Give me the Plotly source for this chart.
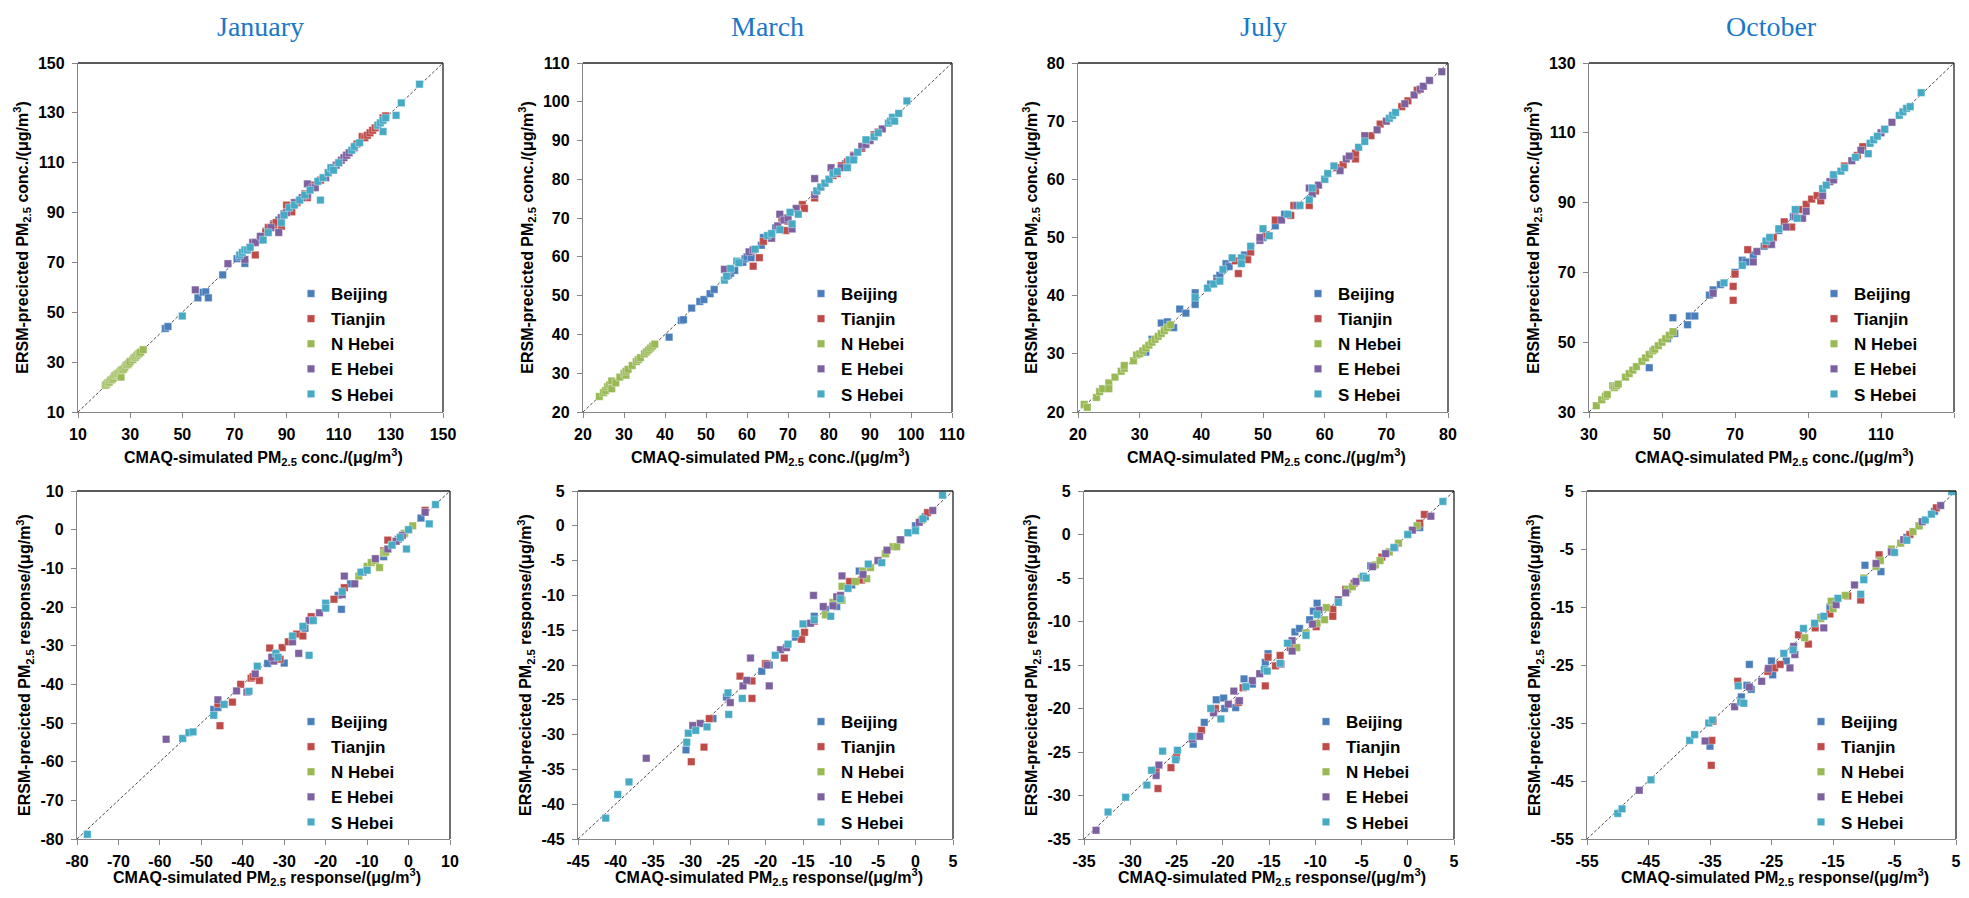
import plotly.graph_objects as go

OFF = 8                      # page body margin of the html page
W, H = 1969 - 2 * OFF, 898 - 2 * OFF

months = ["January", "March", "July", "October"]
regions = ["Beijing", "Tianjin", "N Hebei", "E Hebei", "S Hebei"]
colors = ["#4A7EBB", "#BE4B48", "#98B954", "#7D60A0", "#46AAC5"]

# ---------------- tick labels per panel ----------------
ticks_jan_conc = [10, 30, 50, 70, 90, 110, 130, 150]
ticks_mar_conc = [20, 30, 40, 50, 60, 70, 80, 90, 100, 110]
ticks_jul_conc = [20, 30, 40, 50, 60, 70, 80]
ticks_oct_conc = [30, 50, 70, 90, 110, 130]
ticks_jan_resp = [-80, -70, -60, -50, -40, -30, -20, -10, 0, 10]
ticks_mar_resp = [-45, -40, -35, -30, -25, -20, -15, -10, -5, 0, 5]
ticks_jul_resp = [-35, -30, -25, -20, -15, -10, -5, 0, 5]
ticks_oct_resp = [-55, -45, -35, -25, -15, -5, 5]

# ---------------- data: (CMAQ-simulated, ERSM-predicted) ----------------
# January concentration
jan_conc_bj = [(43.5,43.5),(44.5,44.3),(56,55.8),(58,58),(59,58.2),(60,55.8),(65.5,65),(71,71.5),(72,72.3),(74,69.6),(75,75),(78,78),(80,80),(82,82.5),(84,84),(85,85.5),(87,87),(89,89),(91,91),(95,95)]
jan_conc_tj = [(78,73),(80,79),(82,82),(83,84),(85,85),(86,86),(88,84.5),(90,93),(92,90.3),(94,94),(97,97.5),(98,96),(100,101),(103,103),(106,106),(110,110),(113,113),(117,117.5),(119,120.5),(120,120),(121,121),(122,122),(123,123),(124,124),(125,125),(127,128),(128,128.8)]
jan_conc_nh = [(20.5,20.7),(21,21.2),(21.5,21.8),(22,22),(22.5,22.8),(23,23),(23.5,23.6),(24,24.5),(24.5,24.8),(25,25.3),(25.5,25.5),(26,26),(26.5,24),(26.5,26.7),(27,27),(27.5,27.2),(28,28),(28.5,28.8),(29,29),(29.5,29.5),(30,30.2),(31,31),(31.5,31.8),(32,32),(32.5,32.6),(33,33.2),(33.5,33.5),(34,34),(35,35)]
jan_conc_eh = [(55,59),(67.5,69.5),(74,71.2),(76,76),(77,78),(78,78),(80,80.5),(84,84),(87,82),(88,88),(89,89.5),(90,90),(93,94),(96,96),(98,101.5),(98,97),(100,100),(101,100),(105,104),(108,108),(109,109),(111,111),(112,112),(113,113),(114,114),(116,116)]
jan_conc_sh = [(50,48.5),(72,73),(73,74),(74,75),(75,75),(76,76),(81,79),(83,82),(88,86),(89,89),(91,92),(93,93),(95,95),(97,97),(99,99),(102,102.5),(103,95),(104,104),(106,106),(107,108),(108,107),(110,110),(115,115),(116,116.5),(118,118),(125,125),(126,126),(127,122.5),(127,127),(128,128),(132,129),(134,134),(141,141.5)]

# March concentration
mar_conc_bj = [(41,39.3),(44,43.6),(44.5,43.8),(46.5,46.8),(48.5,48.5),(49.5,49),(51,50.5),(52,51.6),(55.5,55.3),(56,55.8),(57,56.5),(58,58.5),(59,58.6),(59.5,59.5),(60,60),(61,59.8),(63.5,63),(64,65),(66,66),(67,67.5),(70,70),(80,80),(84,84)]
mar_conc_tj = [(61.5,57.6),(63,59.8),(64,64),(68.5,70),(69.5,66.8),(70,69.2),(73.5,73.5),(74,72.5),(76.5,75.2),(78,78),(81,81),(82,81.5),(83,83.5),(84.5,84.5),(85,85),(86,86.2),(88,88),(91,91.5),(92,92.2)]
mar_conc_nh = [(24,24),(25,25),(25.5,25.5),(26,26.5),(26.5,27),(27,28),(27,26),(28,27.5),(29,29),(30,30),(30.5,29.5),(30.5,30.5),(31,31),(32,32),(33,33),(33.5,33.5),(34,34),(35,35),(35.5,35.5),(36,36),(36.5,36.5),(37,37),(37.5,37.5)]
mar_conc_eh = [(54.5,56.8),(60.5,61.3),(61.5,61.8),(66,64.8),(67.5,68),(68,71),(69,69.5),(70,70),(71,67.2),(72,72.5),(76.5,80.2),(76.5,76),(77,77),(79,79),(80.5,83),(83,83),(86,86),(88,88.5),(89,89),(90,90),(91,91),(93,93)]
mar_conc_sh = [(54.5,54),(55,55),(56,57),(57.5,58.9),(58,58.5),(62,62),(65,65.5),(66,66),(68,67),(70.5,71.5),(71,68.5),(72.5,71),(77,77),(78,78),(79,79),(80,80),(81,81.5),(82,82),(84.5,83),(85,85),(86,85),(87,87),(89,90.2),(91,91),(92,92),(94.5,94.5),(95,95),(95.5,96),(96,95),(97,97),(99,100.2)]

# July concentration
jul_conc_bj = [(31,30.3),(32,32.5),(33.5,35.3),(34.5,35.5),(35.5,34.5),(36.5,37.7),(37.5,37),(39,39.5),(39,40.5),(39,38.5),(41.5,42),(42.5,43),(43,43.5),(44,45.5),(44.5,45),(47,47),(50,50),(52,52),(53.5,54),(60,60)]
jul_conc_tj = [(45.5,46),(46,43.8),(47.5,46.2),(48,47.5),(50.5,50.5),(52,53),(54.5,53.8),(55,55.5),(57.5,55.5),(58.5,58),(62,62),(63,62.5),(65,63.5),(65,64.5),(67.5,67.5),(69,69.5),(72.5,72.5),(73.5,73.5),(75,75.3)]
jul_conc_nh = [(21,21.3),(21.5,20.8),(23,22.5),(23.5,23.5),(24,24),(25,25),(25,24),(26,26),(27,27),(27.5,27.5),(27.5,28),(29,28.8),(29.5,29.8),(30,30),(30.5,30.5),(31,31),(31.5,31.5),(32,32),(32.5,32.5),(33,33),(33.5,33.5),(34,34),(34.5,34.5),(35,35)]
jul_conc_eh = [(42.5,42.5),(49.5,49.5),(49.5,50),(53,53),(55.5,55.5),(57.5,58.5),(58,57.5),(59,59),(62.5,61.5),(63.5,63.5),(64,64),(66.5,67.5),(68.5,68.5),(70,70),(73,73),(74.5,74.5),(75.5,75.5),(76,76),(77,77),(79,78.5)]
jul_conc_sh = [(39,39.7),(41,41.3),(42,42),(43,42.5),(43.5,44.5),(45,46.5),(46.5,46.5),(46.5,45.5),(48,48.5),(50,51.5),(51,50.3),(54,54),(56,55.5),(57.5,56.5),(58,58.5),(60,60),(60.5,61),(61.5,62.3),(65.5,65.5),(66.5,66.5),(70.5,70.5),(71,71),(71.5,71.5)]

# October concentration
oct_conc_bj = [(46.5,42.7),(51.5,51),(53,57),(53.5,52.5),(57,55),(57.5,57.5),(59,57.5),(63,63.5),(64,65),(66,66.5),(70,70),(72,73.5),(73,73),(75,75),(78,77.5),(82,82),(86,86)]
oct_conc_tj = [(69.5,62),(69.5,66),(70,69.5),(73.5,76.5),(78.5,78),(80.5,80),(83.5,84.5),(85.5,83),(87.5,88),(89.5,89.5),(91,91),(92.5,92),(93.5,90.5),(97,97.5),(100,100.5),(103.5,103.5),(105,106)]
oct_conc_nh = [(32,31.8),(33.5,33.5),(34.5,34.5),(35,35),(36.5,37.5),(37,37),(37.5,37.5),(38,38),(40,40),(41,41),(42,42),(43,43),(44.5,44.5),(45.5,45.5),(46.5,46.5),(47.5,47.5),(48,48),(49,49),(50,50),(51,51),(52,52),(53,53)]
oct_conc_eh = [(64,64),(75,73),(76,76),(80,78),(84,83),(86.5,86),(88.5,85.5),(89.5,87.5),(94,92),(96,96),(97,96.5),(102,102),(104.5,105),(110,110),(111,111),(113,113)]
oct_conc_sh = [(67,67),(72,72),(78.5,79),(79.5,80),(82,82.5),(86.5,88),(87,85.5),(94,94),(95,95),(97,98),(99,99),(100,100),(103,103),(106.5,104),(107,107),(108,108),(109,109),(111,111),(115,115),(116,116),(117,117),(118,117.5),(121,121.5)]

# January response
jan_resp_bj = [(-47,-46.5),(-46,-46),(-34,-34.6),(-32,-32),(-30,-34.5),(-25,-25.5),(-20,-20),(-17,-17),(-16.2,-20.6),(-14,-14),(-11,-11),(-6,-7),(-4,-4),(-2.5,-2.5),(-1,-1),(3,3)]
jan_resp_tj = [(-46,-45),(-42.5,-44.6),(-45.5,-50.7),(-40.5,-40),(-38,-38.4),(-37.5,-38),(-36,-39),(-33.5,-30.6),(-30.5,-30.5),(-31,-33.5),(-29,-29),(-27,-27),(-25.5,-27.5),(-23.5,-22.5),(-18,-18),(-15.5,-15),(-5,-2.7),(-6,-5.5),(4,5)]
jan_resp_nh = [(-12,-12),(-10,-9.5),(-9,-8.5),(-8,-8),(-7,-9.8),(-6,-6),(-5.5,-5.8),(-4,-4),(-3,-3),(-2,-2),(-1,-1),(0,0),(1,1)]
jan_resp_eh = [(-58.5,-54.2),(-46,-44),(-41.5,-41.7),(-39,-42),(-37,-37.3),(-32.5,-34),(-33,-33),(-28,-29),(-26.5,-32),(-24,-23.5),(-21.5,-21.5),(-16,-16.8),(-15.5,-12),(-13,-14),(-8,-7.5),(-5,-5),(-3,-3),(-1.5,-1.5),(4,4.5)]
jan_resp_sh = [(-77.5,-78.8),(-54.5,-54),(-53,-52.5),(-52,-52.3),(-47,-48),(-44.5,-45.2),(-38.5,-41.8),(-36.5,-35.3),(-32,-32),(-31.5,-33),(-28,-27.5),(-25.5,-25),(-24,-32.5),(-23,-23.5),(-20,-19),(-20,-20.3),(-16,-16),(-11.5,-11),(-10,-10.5),(-4,-4),(-2,-2),(-0.5,-5),(0,0),(5,1.5),(6.5,6.5)]

# March response
mar_resp_bj = [(-30.6,-32.2),(-27,-27.7),(-25.2,-24.6),(-20.5,-20.9),(-19.5,-20),(-16,-16),(-13.5,-13),(-12,-12),(-10.5,-11.6),(-8.5,-8.5),(-7.5,-6.5),(-4,-4),(-2,-2),(0,0),(1.3,1.3)]
mar_resp_tj = [(-29.9,-33.9),(-28.2,-31.8),(-27.5,-27.7),(-23.4,-21.6),(-21.8,-22.3),(-21.8,-24.8),(-20,-19.8),(-17.5,-19),(-15.2,-16.3),(-14.8,-15.3),(-13.5,-13.7),(-8.8,-8),(-7.2,-7.8),(-5,-5),(-2,-2),(1.6,1.9)]
mar_resp_nh = [(-12,-12.8),(-11,-11),(-9.8,-8.7),(-9.8,-10.7),(-8,-8),(-7,-6.5),(-6.5,-7.6),(-6,-6),(-4,-4),(-3,-3),(-2.5,-3),(-1,-1),(0.8,0.8)]
mar_resp_eh = [(-35.9,-33.4),(-29.7,-28.7),(-28.7,-28.4),(-24.7,-25.4),(-23,-23),(-22.5,-22.2),(-22,-19),(-19.5,-23),(-19.8,-20),(-18,-17.8),(-17.2,-17.5),(-13.6,-10),(-14,-14),(-12.3,-11.6),(-11,-11.5),(-10.5,-10.2),(-10,-10),(-9.8,-7.2),(-7,-7),(-5,-5),(-3.8,-3.5),(-2,-2),(0.5,0.5),(2.3,2.2)]
mar_resp_sh = [(-41.3,-42),(-39.7,-38.6),(-38.2,-36.8),(-30.5,-31.1),(-30.3,-29.8),(-29.3,-29.4),(-27.8,-28.9),(-25,-24),(-24.9,-27.1),(-23.1,-24.8),(-18.7,-18.6),(-17,-17),(-16,-15.5),(-15,-14.1),(-13.5,-13.5),(-11.3,-13),(-10,-10.5),(-9,-9),(-6.3,-5.5),(-4.5,-5.3),(-1,-1),(0,-0.7),(1,1),(3.6,4.4)]

# July response
jul_resp_bj = [(-23.2,-24.1),(-22,-21.6),(-20.7,-19),(-19.9,-18.8),(-19.8,-20),(-18.6,-19.9),(-17.7,-16.6),(-16.8,-17.2),(-15.1,-13.7),(-15.4,-14.7),(-12.2,-11.2),(-11.7,-10.8),(-10.6,-9.8),(-10.2,-8.8),(-9.8,-7.9),(-4,-3.6),(-2,-2),(1.3,0.8)]
jul_resp_tj = [(-27.2,-27.1),(-27,-29.2),(-25.6,-26.8),(-25,-25.6),(-22.3,-22.5),(-20.8,-20),(-18.3,-19.3),(-17.8,-17.6),(-15.4,-17.4),(-15.1,-14.1),(-14.3,-15.1),(-13.8,-13.9),(-12.7,-13),(-9.9,-10.6),(-8.1,-8.6),(-8.1,-9.4),(-6.7,-6.3),(-5.8,-5.6),(-2.8,-2.6),(1.3,1.3),(1.8,2.3)]
jul_resp_nh = [(-12,-13),(-11,-11.3),(-9.8,-10.2),(-9,-9.8),(-8.8,-8.4),(-7.5,-7.5),(-6.5,-6.3),(-6,-6),(-5,-5),(-3.5,-3.5),(-3,-3),(-2,-2),(-1,-1),(0,0),(1,1)]
jul_resp_eh = [(-33.7,-34),(-27.2,-27.7),(-26.9,-26.5),(-23.3,-23.5),(-22.5,-23.2),(-21,-20.5),(-19.4,-19.5),(-18.8,-18),(-18.2,-19.1),(-16.8,-16.8),(-16,-16),(-13.7,-14.9),(-12.5,-13.4),(-12.5,-12.2),(-10.3,-10.3),(-9.6,-8.7),(-7.5,-7.5),(-6.7,-6.7),(-5.6,-5.4),(-3.8,-3.7),(-2.4,-2.2),(-1.4,-1.5),(0.5,0.5),(2.5,2.1)]
jul_resp_sh = [(-32.4,-31.9),(-30.5,-30.2),(-28.2,-28.8),(-27.7,-27.1),(-26.5,-24.9),(-25.1,-25.9),(-24.9,-24.8),(-23.3,-23.2),(-21.3,-20),(-20.2,-21.2),(-17.5,-17.5),(-15.5,-15.5),(-15.2,-15.7),(-13.8,-14.8),(-13,-12.5),(-11,-11.6),(-9.8,-9.2),(-7.5,-7.8),(-4.8,-4.8),(-4.5,-5),(-1.5,-1.5),(0,0),(3.8,3.8)]

# October response
oct_resp_bj = [(-35,-39),(-29.9,-30.5),(-29,-28.5),(-28.3,-29.2),(-28.6,-24.9),(-25,-24.3),(-24.8,-26.7),(-22.6,-24.3),(-17,-16.8),(-15.5,-15),(-9.8,-7.8),(-7.2,-8.9),(-3,-3),(-1,-1),(1.5,1.5)]
oct_resp_tj = [(-34.7,-38),(-34.8,-42.3),(-34.5,-34.7),(-30.5,-27.8),(-25.6,-26.1),(-24.5,-25.5),(-23.6,-24.9),(-20.6,-19.8),(-19,-21.4),(-17.9,-18.6),(-15.5,-16.2),(-12.6,-13.1),(-10.5,-13.8),(-7.5,-6),(-2.5,-2.5),(1.8,2.1)]
oct_resp_nh = [(-19.6,-20.3),(-17,-17),(-15.3,-14),(-15,-15.3),(-13,-13),(-10,-10),(-8,-8),(-7.3,-7),(-5.5,-5),(-4,-4),(-2,-2),(-1,-1)]
oct_resp_eh = [(-46.5,-46.6),(-35.8,-38.1),(-31,-32.2),(-28.6,-28.8),(-26.6,-27.8),(-25.5,-25.6),(-22,-25.5),(-21.2,-23.2),(-21.4,-21.8),(-16.5,-18.6),(-14.5,-14.6),(-11.5,-11.2),(-8,-7.5),(-5.5,-5.5),(-3.5,-3.4),(-0.5,-0.3),(2.5,2.5)]
oct_resp_sh = [(-50,-50.6),(-49.3,-49.8),(-44.6,-44.8),(-38.3,-38),(-37.5,-37),(-35.2,-35),(-34.6,-34.5),(-30.4,-28.6),(-30,-31.4),(-29.5,-31.6),(-23,-23),(-21.5,-22.4),(-19.8,-18.7),(-18,-17.8),(-16.5,-16.6),(-14.2,-13.5),(-10.5,-12.8),(-10,-10.3),(-5,-5.6),(-3,-3.5),(0,0),(1,1),(4.3,4.9)]

panels = [
    (ticks_jan_conc, [jan_conc_bj, jan_conc_tj, jan_conc_nh, jan_conc_eh, jan_conc_sh], "conc."),
    (ticks_mar_conc, [mar_conc_bj, mar_conc_tj, mar_conc_nh, mar_conc_eh, mar_conc_sh], "conc."),
    (ticks_jul_conc, [jul_conc_bj, jul_conc_tj, jul_conc_nh, jul_conc_eh, jul_conc_sh], "conc."),
    (ticks_oct_conc, [oct_conc_bj, oct_conc_tj, oct_conc_nh, oct_conc_eh, oct_conc_sh], "conc."),
    (ticks_jan_resp, [jan_resp_bj, jan_resp_tj, jan_resp_nh, jan_resp_eh, jan_resp_sh], "response"),
    (ticks_mar_resp, [mar_resp_bj, mar_resp_tj, mar_resp_nh, mar_resp_eh, mar_resp_sh], "response"),
    (ticks_jul_resp, [jul_resp_bj, jul_resp_tj, jul_resp_nh, jul_resp_eh, jul_resp_sh], "response"),
    (ticks_oct_resp, [oct_resp_bj, oct_resp_tj, oct_resp_nh, oct_resp_eh, oct_resp_sh], "response"),
]

# ---------------- layout geometry (screen pixels of the reference) ----------------
boxes = [(78, 443, 63, 412), (583, 952, 63, 412), (1078, 1448, 63, 412), (1589, 1954, 63, 412),
         (77, 450, 491, 839), (578, 953, 491, 839), (1084, 1454, 491, 839), (1587, 1956, 491, 839)]
legpos = [(309, 293), (819, 293), (1316, 293), (1832, 293),
          (309, 721), (819, 721), (1324, 721), (1819, 721)]
xtitle_y = [457, 457, 457, 457, 877, 877, 877, 877]


def fx(px):
    return (px - OFF) / W


def fy(py):
    return 1 - (py - OFF) / H


FONT = "Arial, Liberation Sans, sans-serif"
AXC = "#868686"

fig = go.Figure()
layout = dict(width=W, height=H, margin=dict(l=0, r=0, t=0, b=0, autoexpand=False),
              template="none",
              paper_bgcolor="white", plot_bgcolor="white", showlegend=True)
shapes = []
annotations = []

for i, (ticks, series, kind) in enumerate(panels):
    n = i + 1
    xa = "x" if n == 1 else f"x{n}"
    ya = "y" if n == 1 else f"y{n}"
    leg = "legend" if n == 1 else f"legend{n}"
    lo, hi = ticks[0], ticks[-1]
    # 1:1 dashed line
    fig.add_trace(go.Scatter(x=[lo, hi], y=[lo, hi], mode="lines", xaxis=xa, yaxis=ya,
                             line=dict(color="#333", width=0.9, dash="3px,2px"),
                             showlegend=False, hoverinfo="skip"))
    for name, col, pts in zip(regions, colors, series):
        fig.add_trace(go.Scatter(x=[p[0] for p in pts], y=[p[1] for p in pts], mode="markers",
                                 name=name, xaxis=xa, yaxis=ya, legend=leg,
                                 marker=dict(symbol="square", size=7.5, color=col,
                                             line=dict(width=0.6, color="rgba(255,255,255,0.6)"))))
    x0, x1, y0, y1 = boxes[i]
    xdom = [fx(x0), fx(x1)]
    ydom = [fy(y1), fy(y0)]
    tt = [str(t) for t in ticks]
    xtitle = f"CMAQ-simulated PM<sub>2.5</sub> {kind}/(μg/m<sup>3</sup>)"
    ytitle = f"ERSM-precicted PM<sub>2.5</sub> {kind}/(μg/m<sup>3</sup>)"
    common = dict(range=[lo, hi], tickmode="array", tickvals=ticks, ticktext=tt, automargin=True,
                  showgrid=False, zeroline=False, showline=True, linecolor=AXC, linewidth=1.3,
                  ticks="outside", ticklen=5, tickcolor=AXC, tickwidth=1.2,
                  tickfont=dict(family=FONT, size=16, color="black", weight="bold"))
    layout["xaxis" if n == 1 else f"xaxis{n}"] = dict(common, domain=xdom, anchor=ya, ticklabelstandoff=3)
    layout["yaxis" if n == 1 else f"yaxis{n}"] = dict(
        common, domain=ydom, anchor=xa, ticklabelstandoff=4,
        title=dict(text=ytitle, font=dict(family=FONT, size=16, color="black", weight="bold"), standoff=5))
    # x-axis title
    annotations.append(dict(text=xtitle, x=fx((x0 + x1) / 2 + 3), y=fy(xtitle_y[i]), xref="paper", yref="paper",
                            xanchor="center", yanchor="middle", showarrow=False,
                            font=dict(family=FONT, size=16, color="black", weight="bold")))
    # top and right frame of plot area
    shapes.append(dict(type="line", xref=f"{xa} domain", yref=f"{ya} domain", x0=0, x1=1, y0=1, y1=1,
                       line=dict(color="#222", width=1.3)))
    shapes.append(dict(type="line", xref=f"{xa} domain", yref=f"{ya} domain", x0=1, x1=1, y0=0, y1=1,
                       line=dict(color="#222", width=1.3)))
    mx, my = legpos[i]
    layout[leg] = dict(x=fx(mx - 18), y=fy(my - 17), xanchor="left", yanchor="top",
                       bgcolor="rgba(0,0,0,0)", borderwidth=0, tracegroupgap=0,
                       font=dict(family=FONT, size=17, color="black", weight="bold"))
    if i < 4:
        annotations.append(dict(text=months[i], x=fx((x0 + x1) / 2), y=fy(27), xref="paper", yref="paper",
                                xanchor="center", yanchor="middle", showarrow=False,
                                font=dict(family="Times New Roman, Liberation Serif, serif", size=28,
                                          color="#1a78c8")))

layout["shapes"] = shapes
layout["annotations"] = annotations
fig.update_layout(**layout)
fig.write_html("out.html")
